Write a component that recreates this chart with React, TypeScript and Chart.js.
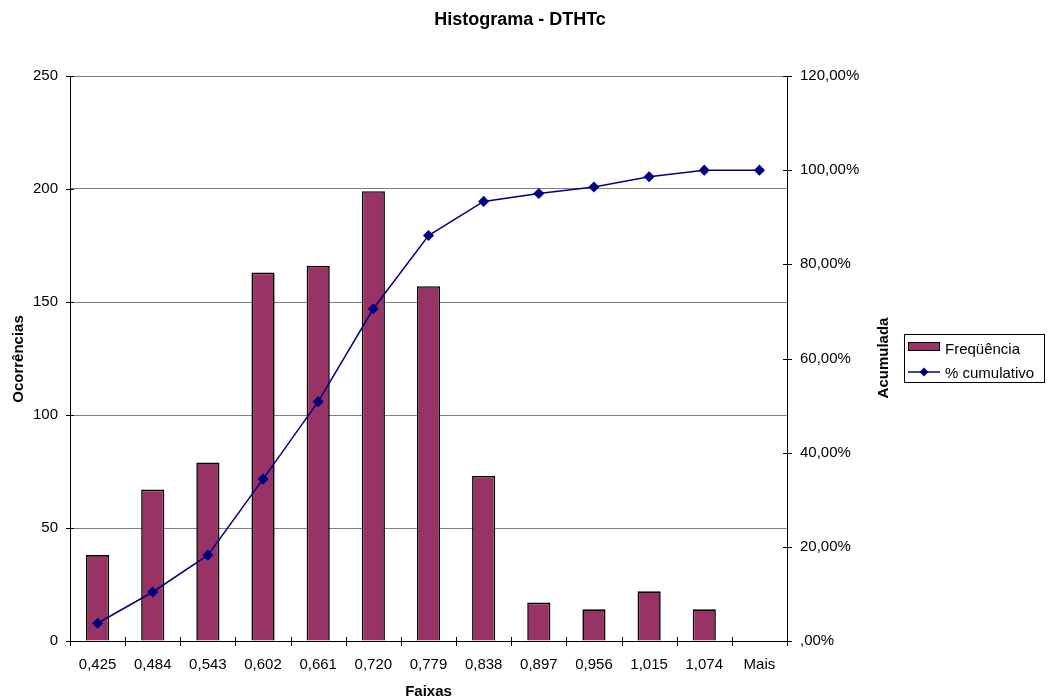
import React, { useEffect, useRef } from "react";
import { Chart, registerables } from "chart.js";

Chart.register(...registerables);

const categories = ["0,425", "0,484", "0,543", "0,602", "0,661", "0,720", "0,779", "0,838", "0,897", "0,956", "1,015", "1,074", "Mais"];
const frequencia = [38, 67, 79, 163, 166, 199, 157, 73, 17, 14, 22, 14, 0];
const cumulativo = [3.77, 10.41, 18.24, 34.39, 50.84, 70.56, 86.12, 93.36, 95.04, 96.43, 98.61, 100, 100];
const leftTicks = [0, 50, 100, 150, 200, 250];
const rightTicks = [0, 20, 40, 60, 80, 100, 120];

const FONT = "'Liberation Sans', Arial, sans-serif";
const BAR_COLOR = "#993366";
const LINE_COLOR = "#000080";

const W = 1047;
const H = 699;

const decorPlugin = {
  id: "decor",
  afterDraw(chart: any) {
    const ctx = chart.ctx as CanvasRenderingContext2D;
    const area = chart.chartArea;
    const y = chart.scales.y;
    const y1 = chart.scales.y1;
    ctx.save();
    ctx.strokeStyle = "#000";
    ctx.lineWidth = 1;
    ctx.beginPath();
    leftTicks.forEach((v) => {
      const py = Math.round(y.getPixelForValue(v)) + 0.5;
      ctx.moveTo(Math.round(area.left) - 4, py);
      ctx.lineTo(Math.round(area.left) + 4, py);
    });
    rightTicks.forEach((v) => {
      const py = Math.round(y1.getPixelForValue(v)) + 0.5;
      ctx.moveTo(Math.round(area.right) - 4, py);
      ctx.lineTo(Math.round(area.right) + 5, py);
    });
    const n = categories.length;
    const step = (area.right - area.left) / n;
    for (let i = 0; i <= n; i++) {
      const px = Math.round(area.left + i * step) + 0.5;
      ctx.moveTo(px, Math.round(area.bottom) - 4);
      ctx.lineTo(px, Math.round(area.bottom) + 5);
    }
    ctx.stroke();

    // Titles
    ctx.fillStyle = "#000";
    ctx.textAlign = "center";
    ctx.textBaseline = "alphabetic";
    ctx.font = `bold 18px ${FONT}`;
    ctx.fillText("Histograma - DTHTc", 520, 25);

    ctx.font = `bold 15px ${FONT}`;
    ctx.fillText("Faixas", (area.left + area.right) / 2, 696);

    ctx.save();
    ctx.translate(23, 359);
    ctx.rotate(-Math.PI / 2);
    ctx.fillText("Ocorrências", 0, 0);
    ctx.restore();

    ctx.save();
    ctx.translate(888, 358);
    ctx.rotate(-Math.PI / 2);
    ctx.fillText("Acumulada", 0, 0);
    ctx.restore();

    // Legend
    ctx.strokeStyle = "#000";
    ctx.lineWidth = 1;
    ctx.strokeRect(904.5, 334.5, 140, 48);

    ctx.fillStyle = BAR_COLOR;
    ctx.fillRect(908, 342, 32, 9);
    ctx.strokeRect(908.5, 342.5, 31, 8);

    ctx.strokeStyle = LINE_COLOR;
    ctx.lineWidth = 1.5;
    ctx.beginPath();
    ctx.moveTo(908, 372);
    ctx.lineTo(940, 372);
    ctx.stroke();
    ctx.fillStyle = LINE_COLOR;
    ctx.beginPath();
    ctx.moveTo(924, 367.5);
    ctx.lineTo(928.5, 372);
    ctx.lineTo(924, 376.5);
    ctx.lineTo(919.5, 372);
    ctx.closePath();
    ctx.fill();

    ctx.fillStyle = "#000";
    ctx.textAlign = "left";
    ctx.font = `15px ${FONT}`;
    ctx.fillText("Freqüência", 945, 354);
    ctx.fillText("% cumulativo", 945, 378);
    ctx.restore();
  },
};

export default function App() {
  const ref = useRef<HTMLCanvasElement | null>(null);

  useEffect(() => {
    if (!ref.current) return;
    Chart.defaults.font.family = FONT;
    Chart.defaults.font.size = 15;
    Chart.defaults.color = "#000";
    const chart = new Chart(ref.current, {
      type: "bar",
      data: {
        labels: categories,
        datasets: [
          {
            type: "line",
            label: "% cumulativo",
            data: cumulativo,
            yAxisID: "y1",
            borderColor: LINE_COLOR,
            backgroundColor: LINE_COLOR,
            borderWidth: 1.5,
            pointStyle: "rectRot",
            pointRadius: 4.5,
            pointBackgroundColor: LINE_COLOR,
            pointBorderColor: LINE_COLOR,
            tension: 0,
            order: 0,
          } as any,
          {
            type: "bar",
            label: "Freqüência",
            data: frequencia,
            yAxisID: "y",
            backgroundColor: BAR_COLOR,
            borderColor: "#000",
            borderWidth: 1.6,
            barPercentage: 0.42,
            categoryPercentage: 1,
            order: 1,
          },
        ],
      },
      plugins: [decorPlugin],
      options: {
        responsive: false,
        animation: false,
        layout: { padding: { top: 76, left: 0, right: 0, bottom: 0 } },
        plugins: {
          legend: { display: false },
          title: { display: false },
          tooltip: { enabled: false },
        },
        scales: {
          x: {
            grid: { display: false, drawTicks: false },
            border: { display: true, color: "#000", width: 1 },
            ticks: { padding: 15, maxRotation: 0, autoSkip: false, color: "#000" },
            afterFit: (s: any) => {
              s.height = 58;
            },
          },
          y: {
            position: "left",
            min: 0,
            max: 250,
            ticks: { stepSize: 50, padding: 12, color: "#000" },
            grid: { color: "#808080", drawTicks: false, lineWidth: 1 },
            border: { display: true, color: "#000", width: 1 },
            afterFit: (s: any) => {
              s.width = 70;
            },
          },
          y1: {
            position: "right",
            min: 0,
            max: 120,
            ticks: {
              stepSize: 20,
              padding: 13,
              color: "#000",
              callback: (v: any) => (v === 0 ? ",00%" : `${v},00%`),
            },
            grid: { drawOnChartArea: false, drawTicks: false },
            border: { display: true, color: "#000", width: 1 },
            afterFit: (s: any) => {
              s.width = 260;
            },
          },
        },
      },
    });
    return () => chart.destroy();
  }, []);

  return (
    <div style={{ position: "absolute", left: 0, top: 0, width: W, height: H, background: "#fff" }}>
      <canvas ref={ref} width={W} height={H} style={{ display: "block" }} />
    </div>
  );
}
